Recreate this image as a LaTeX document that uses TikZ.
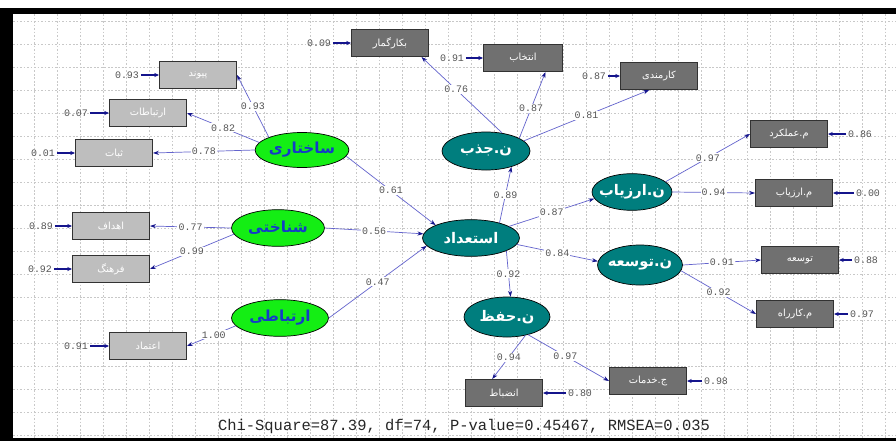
\documentclass[tikz,border=0pt]{standalone}
\usepackage{fontspec}
\setmonofont{Liberation Mono}
\newfontfamily\arabicfont[Script=Arabic]{DejaVu Sans}
\TeXXeTstate=1
\usetikzlibrary{positioning}
\usetikzlibrary{shapes.geometric}
\usetikzlibrary{arrows.meta}

\definecolor{exogreen}{RGB}{20,238,20}
\definecolor{exotext}{RGB}{20,60,200}
\definecolor{endoteal}{RGB}{0,126,126}
\definecolor{lightbox}{RGB}{190,190,190}
\definecolor{darkbox}{RGB}{112,112,112}
\definecolor{boxline}{RGB}{50,50,50}
\definecolor{linecol}{RGB}{100,100,205}
\definecolor{headcol}{RGB}{20,20,140}
\definecolor{numgray}{RGB}{85,85,85}
\definecolor{gridcol}{RGB}{200,200,200}

\newcommand{\fa}[1]{\beginR #1\endR}

\tikzset{
	latent/.style = {ellipse, draw = black, line width = 0.6pt, inner sep = 0pt, minimum width = 2.75cm, minimum height = 1.1cm},
	exo/.style = {latent, fill = exogreen, text = exotext, font = \arabicfont\bfseries\fontsize{13}{13}\selectfont},
	endo/.style = {latent, fill = endoteal, text = white, font = \arabicfont\bfseries\fontsize{12.5}{12.5}\selectfont},
	obs/.style = {rectangle, draw = boxline, line width = 0.9pt, inner sep = 0pt, minimum width = 2.31cm, minimum height = 0.81cm, text = white, font = \arabicfont\fontsize{8.4}{8.4}\selectfont},
	obslight/.style = {obs, fill = lightbox},
	obsdark/.style = {obs, fill = darkbox},
	coef/.style = {font = \ttfamily\fontsize{8.5}{8.5}\selectfont, text = numgray, fill = white, inner sep = 1pt},
	errval/.style = {font = \ttfamily\fontsize{8.5}{8.5}\selectfont, text = numgray, inner sep = 1.5pt},
	conn/.style = {draw = linecol, line width = 0.6pt, -{Stealth[length = 5pt, width = 3.5pt, color = headcol]}},
	errconn/.style = {draw = headcol, line width = 1.1pt, -{Stealth[length = 4pt, width = 3.5pt]}},
	gridline/.style = {draw = gridcol, line width = 0.4pt, dash pattern = on 1.5pt off 1.5pt}
}

\begin{document}
\begin{tikzpicture}[x = 0.03cm, y = -0.03cm]
	\useasboundingbox (0, 0) rectangle (896, 441);
	\fill [white] (0, 0) rectangle (896, 441);
	\foreach \gx in {34, 57, ..., 896}
		\draw [gridline] (\gx, 14) -- (\gx, 438);
	\foreach \gy in {21, 44, ..., 437}
		\draw [gridline] (13, \gy) -- (896, \gy);
	\fill [black] (0, 8) rectangle (896, 14);
	\fill [black] (0, 8) rectangle (13, 441);
	\fill [black] (0, 438) rectangle (896, 441);

	\node [obslight] (peyvand) at (198, 75) {\fa{پیوند}};
	\node [obslight] (ertebatat) at (148, 113) {\fa{ارتباطات}};
	\node [obslight] (sabat) at (114, 153) {\fa{ثبات}};
	\node [obslight] (ahdaf) at (111, 226) {\fa{اهداف}};
	\node [obslight] (farhang) at (111, 269) {\fa{فرهنگ}};
	\node [obslight] (etemad) at (148, 346) {\fa{اعتماد}};

	\node [exo, minimum width = 2.73cm, minimum height = 1.05cm] (sakhtari) at (302, 150) {\fa{ساختاری}};
	\node [exo, minimum width = 2.79cm] (shenakhti) at (278, 228) {\fa{شناختی}};
	\node [exo, minimum width = 2.91cm] (ertebati) at (280, 318) {\fa{ارتباطی}};

	\node [endo, minimum width = 2.91cm] (esteedad) at (471, 238) {\fa{استعداد}};
	\node [endo, minimum width = 2.64cm, minimum height = 1.14cm] (jazb) at (486, 151) {\fa{ن.جذب}};
	\node [endo, minimum width = 2.4cm, inner xsep = -7pt] (arzyab) at (632, 192) {\fa{ن.ارزیاب}};
	\node [endo, minimum width = 2.55cm, minimum height = 1.2cm, inner xsep = -6pt] (tosee) at (640, 265) {\fa{ن.توسعه}};
	\node [endo, minimum width = 2.58cm, minimum height = 1.2cm] (hefz) at (507, 317) {\fa{ن.حفظ}};

	\node [obsdark] (bekargomar) at (390, 43) {\fa{بکارگمار}};
	\node [obsdark, minimum width = 2.37cm] (entekhab) at (523, 58) {\fa{انتخاب}};
	\node [obsdark] (karmandi) at (659, 76) {\fa{کارمندی}};
	\node [obsdark] (amalkard) at (789, 134) {\fa{م.عملکرد}};
	\node [obsdark] (marzyab) at (794, 193) {\fa{م.ارزیاب}};
	\node [obsdark] (toseebox) at (800, 260) {\fa{توسعه}};
	\node [obsdark] (karrah) at (795, 314) {\fa{م.کارراه}};
	\node [obsdark] (khadamat) at (648, 381) {\fa{ج.خدمات}};
	\node [obsdark] (enzebat) at (504, 393) {\fa{انضباط}};

	\node [errval] (epeyvand) at (127, 75) {0.93};
	\node [errval] (eertebatat) at (76, 113) {0.07};
	\node [errval] (esabat) at (43, 153) {0.01};
	\node [errval] (eahdaf) at (41, 226) {0.89};
	\node [errval] (efarhang) at (40, 269) {0.92};
	\node [errval] (eetemad) at (76, 346) {0.91};
	\node [errval] (ebekargomar) at (319, 43) {0.09};
	\node [errval] (eentekhab) at (452, 58) {0.91};
	\node [errval] (ekarmandi) at (594, 76) {0.87};
	\node [errval] (eamalkard) at (860, 134) {0.86};
	\node [errval] (emarzyab) at (868, 193) {0.00};
	\node [errval] (etoseebox) at (866, 260) {0.88};
	\node [errval] (ekarrah) at (862, 314) {0.97};
	\node [errval] (ekhadamat) at (716, 381) {0.98};
	\node [errval] (eenzebat) at (580, 393) {0.80};

	\draw [errconn] (epeyvand) -- (peyvand);
	\draw [errconn] (eertebatat) -- (ertebatat);
	\draw [errconn] (esabat) -- (sabat);
	\draw [errconn] (eahdaf) -- (ahdaf);
	\draw [errconn] (efarhang) -- (farhang);
	\draw [errconn] (eetemad) -- (etemad);
	\draw [errconn] (ebekargomar) -- (bekargomar);
	\draw [errconn] (eentekhab) -- (entekhab);
	\draw [errconn] (ekarmandi) -- (karmandi);
	\draw [errconn] (eamalkard) -- (amalkard);
	\draw [errconn] (emarzyab) -- (marzyab);
	\draw [errconn] (etoseebox) -- (toseebox);
	\draw [errconn] (ekarrah) -- (karrah);
	\draw [errconn] (ekhadamat) -- (khadamat);
	\draw [errconn] (eenzebat) -- (enzebat);

	\draw [conn] (sakhtari.159) -- node [coef] {0.93} (peyvand.east);
	\draw [conn] (sakhtari.170) -- node [coef] {0.82} (ertebatat.east);
	\draw [conn] (sakhtari.west) -- node [coef] {0.78} (sabat.east);
	\draw [conn] (sakhtari.-8) -- node [coef] {0.61} (esteedad.160);
	\draw [conn] (shenakhti.west) -- node [coef] {0.77} (ahdaf.east);
	\draw [conn] (shenakhti.188) -- node [coef] {0.99} (farhang.east);
	\draw [conn] (shenakhti.east) -- node [coef] {0.56} (esteedad.175);
	\draw [conn] (ertebati.east) -- node [coef] {0.47} (esteedad.190);
	\draw [conn] (ertebati.190) -- node [coef, pos = 0.45] {1.00} (etemad.east);
	\draw [conn] (jazb.48) -- node [coef, pos = 0.57] {0.76} (bekargomar.-24);
	\draw [conn] (jazb.21) -- node [coef, pos = 0.45] {0.87} (entekhab.-32);
	\draw [conn] (jazb.15) -- node [coef] {0.81} (karmandi.-125);
	\draw [conn] (esteedad.28) -- node [coef] {0.89} (jazb.-32);
	\draw [conn] (esteedad.17) -- node [coef] {0.87} (arzyab.190);
	\draw [conn] (esteedad.-8) -- node [coef] {0.84} (tosee.175);
	\draw [conn] (esteedad.-20) -- node [coef] {0.92} (hefz.80);
	\draw [conn] (arzyab.17) -- node [coef] {0.97} (amalkard.west);
	\draw [conn] (arzyab.east) -- node [coef] {0.94} (marzyab.west);
	\draw [conn] (tosee.east) -- node [coef] {0.91} (toseebox.west);
	\draw [conn] (tosee.-8) -- node [coef] {0.92} (karrah.west);
	\draw [conn] (hefz.-45) -- node [coef] {0.94} (enzebat.130);
	\draw [conn] (hefz.-40) -- node [coef, pos = 0.46] {0.97} (khadamat.west);

	\node [font = \ttfamily\fontsize{13.2}{13.2}\selectfont, text = black!85] (fit) at (464, 426) {Chi-Square=87.39, df=74, P-value=0.45467, RMSEA=0.035};
\end{tikzpicture}
\end{document}
